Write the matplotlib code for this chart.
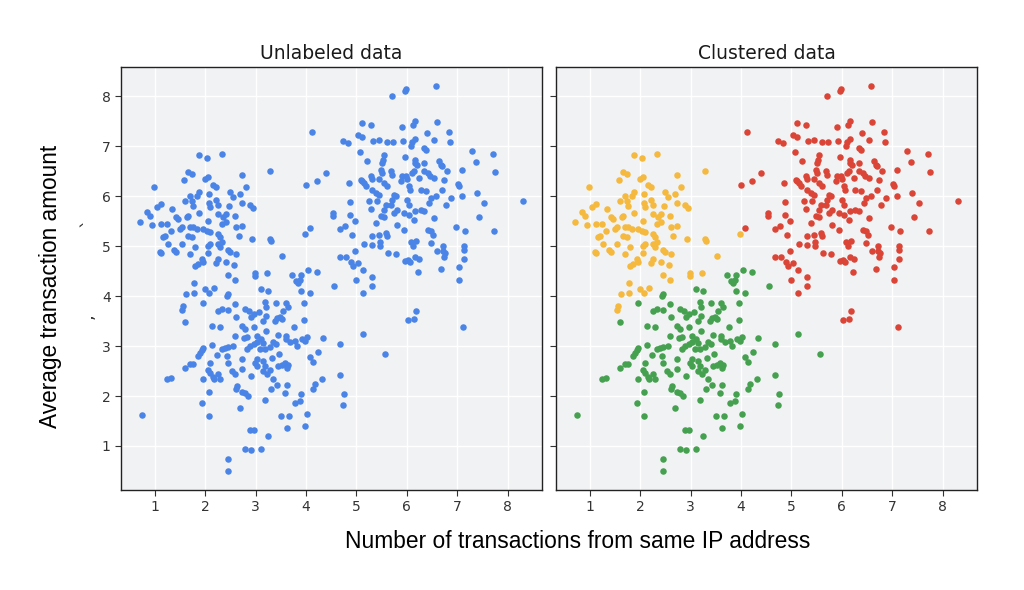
import numpy as np
import matplotlib.pyplot as plt

# points, grouped by the cluster colour of the right panel
yellow_x = [1.88, 2.04, 2.33, 1.65, 1.73, 1.58, 1.99, 2.06, 2.16, 2.22, 2.72, 2.80, 0.99, 1.88, 2.08, 2.49, 2.68, 2.55,
            1.70, 1.83, 1.60, 1.73, 2.21, 2.08, 2.26, 2.09, 1.76, 2.48, 2.72, 2.89, 2.94, 1.13, 1.05, 1.35, 0.85, 1.88,
            0.70, 0.90, 0.95, 1.13, 1.25, 1.43, 1.46, 1.63, 1.66, 1.50, 1.53, 1.33, 1.70, 1.76, 1.83, 1.66, 1.17, 1.20,
            1.53, 1.27, 1.73, 2.06, 1.96, 2.09, 2.03, 2.26, 2.36, 2.42, 2.59, 2.33, 2.42, 2.62, 2.72, 2.26, 2.29, 2.66,
            2.92, 2.06, 2.09, 2.26, 2.33, 2.29, 1.80, 1.10, 1.13, 1.39, 1.42, 1.70, 2.06, 2.46, 2.49, 2.62, 1.93, 1.96,
            1.86, 1.80, 2.26, 2.22, 2.42, 2.58, 2.99, 2.99, 2.46, 2.59, 1.78, 1.99, 2.18, 1.61, 1.78, 2.07, 1.56, 1.53,
            3.28, 3.30, 3.98, 3.52, 3.23, 3.28]
yellow_y = [6.82, 6.77, 6.85, 6.49, 6.45, 6.33, 6.34, 6.39, 6.23, 6.18, 6.43, 6.18, 6.18, 6.09, 6.04, 6.09, 6.04, 5.98,
            6.00, 6.00, 5.91, 5.91, 5.93, 5.87, 5.83, 5.78, 5.81, 5.81, 5.86, 5.83, 5.77, 5.84, 5.79, 5.75, 5.69, 5.66,
            5.48, 5.61, 5.43, 5.44, 5.44, 5.58, 5.54, 5.58, 5.61, 5.34, 5.38, 5.31, 5.38, 5.39, 5.34, 5.21, 5.18, 5.21,
            5.04, 5.04, 5.19, 5.51, 5.34, 5.28, 5.31, 5.64, 5.58, 5.64, 5.61, 5.44, 5.48, 5.39, 5.41, 5.24, 5.19, 5.21,
            5.14, 5.01, 5.04, 5.04, 5.08, 4.98, 4.99, 4.88, 4.86, 4.92, 4.88, 4.84, 4.86, 4.92, 4.88, 4.84, 4.74, 4.68,
            4.64, 4.61, 4.74, 4.66, 4.68, 4.62, 4.46, 4.41, 4.43, 4.33, 4.26, 4.14, 4.16, 4.04, 4.07, 4.06, 3.81, 3.73,
            5.14, 5.10, 5.24, 4.81, 4.47, 6.51]

green_x = [1.60, 1.96, 2.46, 2.43, 2.59, 2.26, 2.33, 2.46, 2.62, 2.79, 2.86, 2.96, 2.90, 3.06, 2.13, 2.29, 2.72, 2.79,
           2.96, 2.59, 2.76, 2.82, 3.02, 3.10, 3.11, 3.02,
           3.73, 3.81, 3.85, 3.88, 3.90, 4.03, 4.21, 3.90, 4.07, 4.56, 3.25, 3.18, 3.21, 3.40, 3.60, 3.65, 3.55, 3.95,
           3.21, 3.15, 3.42, 3.38, 3.48, 3.52, 3.95, 3.76, 3.21, 3.44, 3.60, 3.61, 4.01, 3.91, 3.98, 4.33, 5.13, 3.15,
           3.35, 3.68, 3.78,
           1.90, 1.86, 1.93, 1.96, 2.13, 2.33, 2.39, 2.46, 2.56, 2.82, 2.89, 2.96, 2.23, 2.43, 2.45, 2.72, 3.02, 2.99,
           3.02, 3.09, 2.09, 1.70, 1.76, 1.60, 2.06, 2.09, 2.16, 2.26, 2.29, 2.18, 1.96, 2.53, 2.59, 2.72, 2.91, 1.25,
           1.33, 2.63, 2.61, 2.72, 2.79, 2.84, 2.08, 1.93, 2.69, 0.75, 2.08, 2.89, 2.96, 2.79, 2.91, 3.11, 2.45, 2.45,
           3.18, 3.28, 3.40, 3.83, 4.68, 3.47, 3.32, 3.15, 3.18, 3.22, 3.15, 3.45, 3.52, 3.58, 3.62, 3.65, 3.28, 4.08,
           4.13, 4.23, 5.56, 3.35, 3.42, 3.31, 3.63, 3.58, 4.13, 4.17, 4.31, 4.68, 3.90, 3.88, 3.78, 4.76, 4.74, 3.18,
           3.50, 3.67, 4.01, 3.63, 3.97, 3.24]
green_y = [3.49, 3.86, 4.04, 4.01, 3.84, 3.71, 3.74, 3.72, 3.59, 3.74, 3.71, 3.64, 3.58, 3.68, 3.41, 3.39, 3.41, 3.34,
           3.38, 3.21, 3.16, 3.18, 3.21, 4.15, 3.14, 3.08,
           4.43, 4.31, 4.26, 4.33, 4.42, 4.53, 4.49, 4.11, 4.06, 4.21, 4.10, 3.88, 3.78, 3.86, 3.86, 3.78, 3.71, 3.86,
           3.61, 3.51, 3.56, 3.50, 3.59, 3.54, 3.52, 3.39, 3.31, 3.23, 3.21, 3.14, 3.18, 3.14, 3.11, 3.16, 3.24, 3.07,
           3.09, 3.08, 3.10,
           2.87, 2.80, 2.93, 2.97, 3.02, 2.94, 2.97, 2.99, 3.00, 2.94, 3.00, 3.04, 2.82, 2.80, 2.67, 2.74, 2.75, 2.66,
           2.60, 2.94, 2.67, 2.64, 2.64, 2.57, 2.52, 2.46, 2.39, 2.44, 2.35, 2.35, 2.34, 2.50, 2.44, 2.55, 2.40, 2.35,
           2.37, 2.20, 2.15, 2.08, 2.06, 2.00, 2.08, 1.87, 1.77, 1.63, 1.60, 1.32, 1.32, 0.94, 0.92, 0.94, 0.74, 0.50,
           2.94, 2.99, 3.04, 3.00, 3.04, 2.84, 2.77, 2.70, 2.60, 2.44, 2.50, 2.60, 2.62, 2.67, 2.57, 2.63, 2.52, 2.79,
           2.68, 2.88, 2.84, 2.35, 2.22, 2.15, 2.22, 2.06, 2.15, 2.24, 2.34, 2.42, 2.04, 1.90, 1.86, 2.04, 1.83, 1.92,
           1.60, 1.60, 1.65, 1.35, 1.40, 1.19]

# red cluster as (x, y) pairs: outer part, then the dense core
red_outer = [(5.70, 8.01), (5.11, 7.47), (5.29, 7.42), (4.11, 7.28), (5.04, 7.22), (5.11, 7.19), (4.74, 7.11),
             (4.83, 7.06), (5.32, 7.11), (5.45, 7.13), (5.72, 7.08), (5.61, 7.08), (4.40, 6.46), (4.21, 6.30),
             (3.99, 6.23), (4.53, 5.66),
             (5.96, 8.11), (5.99, 8.15), (6.57, 8.20), (6.16, 7.51), (6.12, 7.43), (6.59, 7.48), (5.91, 7.39),
             (6.84, 7.28), (6.40, 7.26), (5.93, 7.10), (6.11, 7.09), (6.16, 7.15), (6.54, 7.12), (6.85, 7.09),
             (6.08, 7.01), (7.29, 6.91), (7.70, 6.85), (7.37, 6.69), (7.09, 6.53), (7.75, 6.48), (7.02, 6.25),
             (7.04, 6.21), (7.09, 6.00), (7.40, 6.06), (7.52, 5.87), (8.30, 5.90),
             (4.07, 5.36), (4.54, 5.61), (4.68, 5.34), (5.14, 5.04), (5.31, 5.03), (5.46, 5.08), (5.47, 5.01),
             (5.62, 4.86), (5.79, 4.84), (4.98, 4.90), (4.68, 4.79), (4.80, 4.79), (4.89, 4.68), (4.93, 4.61),
             (5.04, 4.66), (5.13, 4.53), (4.99, 4.32), (5.31, 4.38), (5.31, 4.21), (5.13, 4.06),
             (7.44, 5.59), (6.97, 5.39), (7.15, 5.31), (7.73, 5.31), (6.09, 5.08), (6.12, 5.00), (6.19, 5.10),
             (6.71, 5.01), (6.72, 4.91), (6.75, 4.86), (6.74, 4.78), (6.59, 4.90), (7.13, 5.01), (7.13, 4.92),
             (5.96, 4.71), (6.03, 4.72), (6.06, 4.68), (6.16, 4.79), (6.24, 4.74), (7.14, 4.74), (6.22, 4.48),
             (6.67, 4.54), (7.03, 4.58), (7.04, 4.32), (6.18, 3.70), (6.14, 3.54), (6.02, 3.52), (7.11, 3.38)]
red_core = [(5.07, 6.89), (5.20, 6.71), (5.54, 6.83), (5.53, 6.73), (5.51, 6.67), (5.96, 6.79), (6.17, 6.73),
            (6.16, 6.67), (6.21, 6.63), (6.34, 6.97), (6.37, 6.93), (6.34, 6.67), (6.64, 6.70), (6.67, 6.63),
            (6.70, 6.60), (6.80, 6.50), (4.85, 6.27), (5.08, 6.33), (5.11, 6.30), (5.15, 6.27), (5.18, 6.20),
            (5.28, 6.41), (5.31, 6.35), (5.48, 6.53), (5.51, 6.47), (5.68, 6.50), (5.71, 6.43), (5.44, 6.35),
            (5.54, 6.27), (5.61, 6.21), (5.91, 6.40), (5.88, 6.30), (5.98, 6.41), (6.01, 6.35), (6.11, 6.47),
            (6.14, 6.50), (6.34, 6.50), (6.41, 6.47), (6.46, 6.40), (6.24, 6.37), (6.54, 6.37), (6.74, 6.33),
            (6.70, 6.13), (5.31, 6.13), (5.38, 6.07), (5.44, 6.03), (5.74, 6.03), (5.78, 6.00), (6.04, 6.20),
            (6.07, 6.13), (6.27, 6.13), (6.37, 6.10), (4.87, 5.88), (5.25, 5.91), (5.41, 5.90), (5.58, 5.83),
            (5.54, 5.73), (5.71, 5.93), (5.68, 5.83), (6.01, 5.93), (6.04, 5.83), (6.47, 5.97), (6.57, 6.00),
            (6.44, 5.87), (6.77, 5.83), (6.87, 5.97), (5.28, 5.75), (4.88, 5.63), (5.80, 5.73), (5.74, 5.67),
            (5.48, 5.60), (5.54, 5.59), (5.94, 5.67), (6.04, 5.63), (6.17, 5.70), (6.27, 5.73), (6.34, 5.70),
            (6.14, 5.53), (4.98, 5.50), (5.38, 5.47), (5.81, 5.43), (4.78, 5.40), (6.54, 5.57), (6.41, 5.33),
            (6.47, 5.30), (6.51, 5.23), (4.91, 5.23), (5.31, 5.20), (5.44, 5.23), (5.58, 5.27), (5.61, 5.20),
            (5.94, 5.33), (6.47, 5.07)]

red_x = [p[0] for p in red_outer + red_core]
red_y = [p[1] for p in red_outer + red_core]

clusters = [(yellow_x, yellow_y, '#f4b93e'),
            (green_x, green_y, '#45a04f'),
            (red_x, red_y, '#db4537')]

all_x = yellow_x + green_x + red_x
all_y = yellow_y + green_y + red_y

fig = plt.figure(figsize=(10.24, 5.9), dpi=100)
ax1 = fig.add_axes([0.1182, 0.1695, 0.4111, 0.7169])
ax2 = fig.add_axes([0.543, 0.1695, 0.4111, 0.7169], sharey=ax1)

ax1.scatter(all_x, all_y, s=22, color='#4a84e6', linewidths=0, zorder=3)
for xs, ys, col in clusters:
    ax2.scatter(xs, ys, s=22, color=col, linewidths=0, zorder=3)

for ax, title in [(ax1, 'Unlabeled data'), (ax2, 'Clustered data')]:
    ax.set_facecolor('#f1f2f4')
    ax.grid(True, color='white', linewidth=1, zorder=0)
    ax.set_axisbelow(True)
    ax.set_xlim(0.33, 8.68)
    ax.set_ylim(0.12, 8.58)
    ax.set_xticks(range(1, 9))
    ax.set_yticks(range(1, 9))
    ax.tick_params(labelsize=10, colors='#333333', length=4)
    ax.set_title(title, fontsize=13.5, color='#1a1a1a', pad=6)
    for sp in ax.spines.values():
        sp.set_color('#222222')
        sp.set_linewidth(1)

ax2.tick_params(labelleft=False)

fig.text(0.564, 0.083, 'Number of transactions from same IP address', ha='center', va='center',
         fontsize=16.4, family='Liberation Sans')
fig.text(0.049, 0.514, 'Average transaction amount', ha='center', va='center', rotation=90,
         fontsize=16.3, family='Liberation Sans')
# stray marks next to the y label in the original
fig.text(0.086, 0.623, '`', ha='center', va='center', rotation=90, fontsize=13, color='#333333')
fig.text(0.086, 0.465, ',', ha='center', va='center', rotation=90, fontsize=13, color='#333333')

fig.savefig('out.png', dpi=100)
